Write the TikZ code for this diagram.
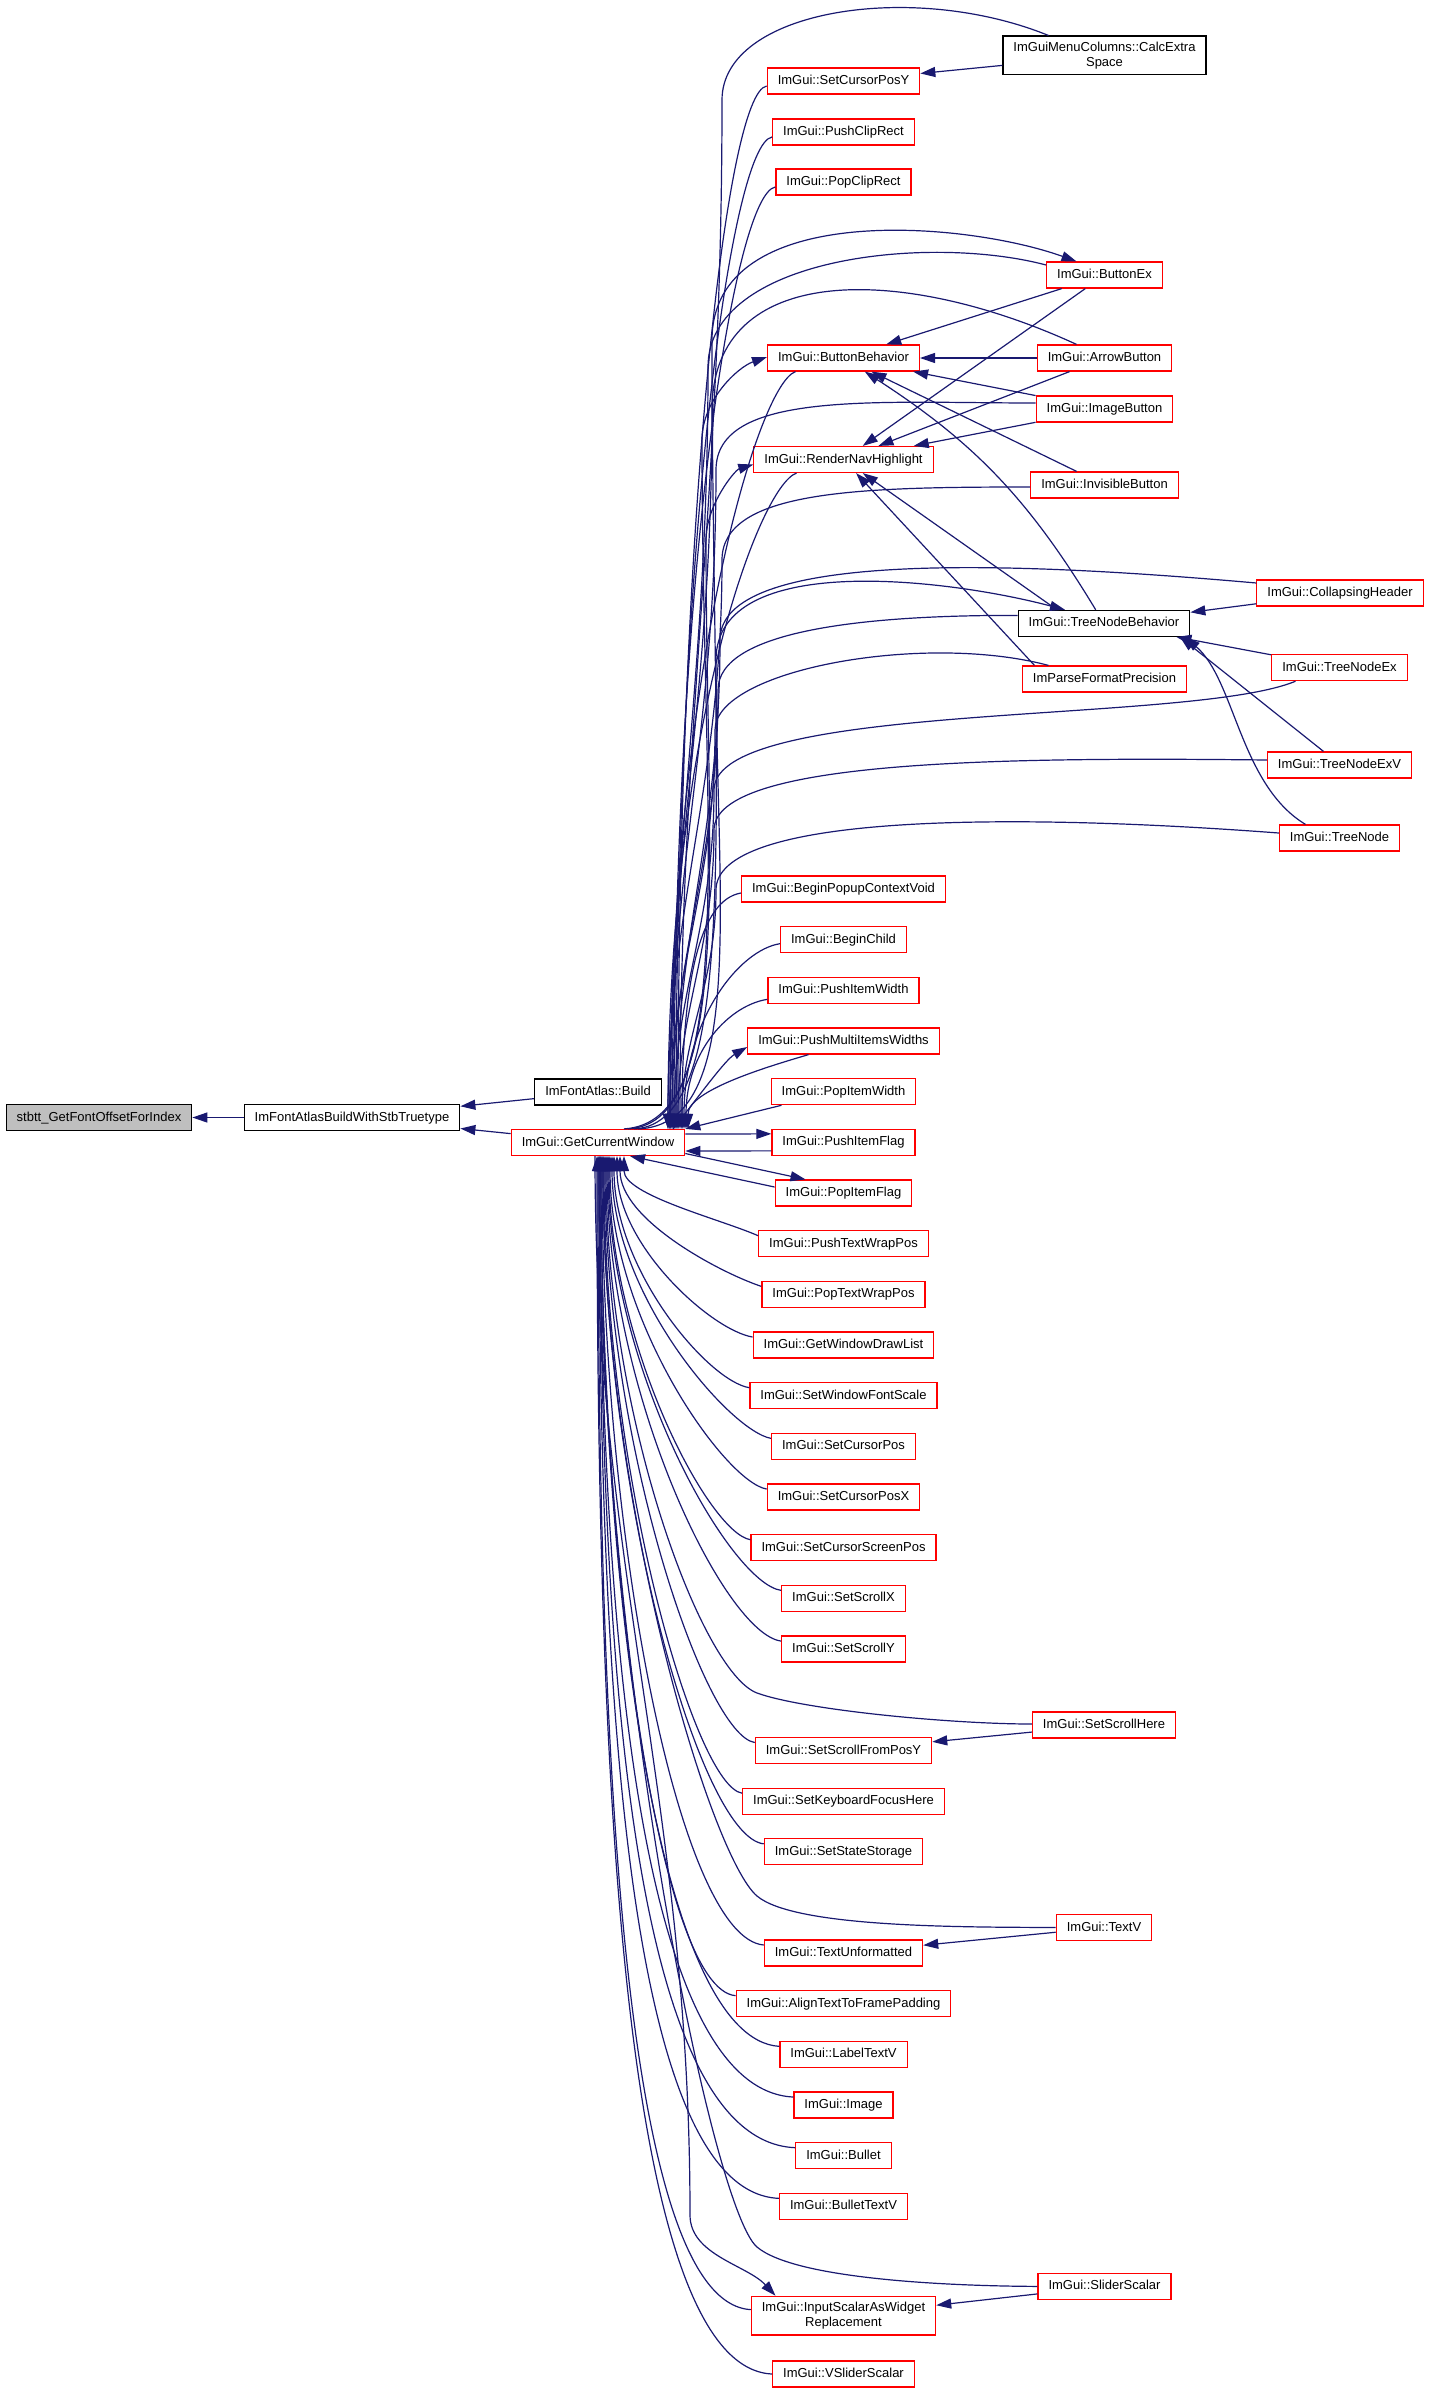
\documentclass[tikz,border=0pt]{standalone}
\usepackage{fontspec}
\setmainfont{Liberation Sans}
\usepackage{tikz}
\usetikzlibrary{positioning}
\usetikzlibrary{arrows.meta}
\usepackage{xcolor}
\definecolor{navy}{HTML}{191970}
\definecolor{boxgray}{HTML}{BFBFBF}

\begin{document}
\begin{tikzpicture}[x=1pt, y=1pt, node distance=50.67pt,
  fn/.style = {draw=red, line width=1.2pt, rectangle, font=\fontsize{13}{15.5}\selectfont, inner xsep=10.5pt, inner ysep=0pt, minimum height=26pt, text height=9.6pt, text depth=2.6pt},
  fnblack/.style = {fn, draw=black},
  fngray/.style = {fnblack, fill=boxgray},
  twoline/.style = {align=center, text height={}, text depth={}, inner ysep=5.5pt},
  call/.style = {draw=navy, line width=1.2pt, -{Triangle[length=15pt,width=10pt]}}]
\useasboundingbox (0,0) rectangle (1429,-2393);

\node[fngray] (stbtt) at (99,-1117.5) {stbtt\_GetFontOffsetForIndex};
\node[fnblack] (fontbuild) at (352,-1117.5) {ImFontAtlasBuildWithStbTruetype};
\node[fnblack] (atlasbuild) at (598,-1092) {ImFontAtlas::Build};
\node[fn] (getwin) at (598,-1142.5) {ImGui::GetCurrentWindow};

\node[fnblack, twoline] (calcextra) at (1104.5,-55.4) {ImGuiMenuColumns::CalcExtra\\Space};
\node[fn] (setcurposy) at (843.5,-81) {ImGui::SetCursorPosY};
\node[fn] (pushclip) at (843.5,-132) {ImGui::PushClipRect};
\node[fn] (popclip) at (843.5,-182) {ImGui::PopClipRect};
\node[fn] (buttonex) at (1104.5,-275) {ImGui::ButtonEx};
\node[fn] (btnbehav) at (843.5,-358) {ImGui::ButtonBehavior};
\node[fn] (arrowbutton) at (1104.5,-358) {ImGui::ArrowButton};
\node[fn] (imagebutton) at (1104.5,-409) {ImGui::ImageButton};
\node[fn] (rendernav) at (843.5,-459.5) {ImGui::RenderNavHighlight};
\node[fn] (invisible) at (1104.5,-485) {ImGui::InvisibleButton};
\node[fn] (collhead) at (1340,-593) {ImGui::CollapsingHeader};
\node[fnblack] (treebehav) at (1104,-623.4) {ImGui::TreeNodeBehavior};
\node[fn] (treenodeex) at (1339.5,-667.6) {ImGui::TreeNodeEx};
\node[fn] (impfp) at (1104.5,-679) {ImParseFormatPrecision};
\node[fn] (treenodeexv) at (1339.5,-765) {ImGui::TreeNodeExV};
\node[fn] (treenode) at (1339.5,-838) {ImGui::TreeNode};

\node[fn] (popupvoid) at (843.5,-889) {ImGui::BeginPopupContextVoid};
\node[fn] (beginchild) [below of=popupvoid] {ImGui::BeginChild};
\node[fn] (pushwidth) [below of=beginchild] {ImGui::PushItemWidth};
\node[fn] (pushmulti) [below of=pushwidth] {ImGui::PushMultiItemsWidths};
\node[fn] (popwidth) [below of=pushmulti] {ImGui::PopItemWidth};
\node[fn] (pushflag) [below of=popwidth] {ImGui::PushItemFlag};
\node[fn] (popflag) [below of=pushflag] {ImGui::PopItemFlag};
\node[fn] (pushwrap) [below of=popflag] {ImGui::PushTextWrapPos};
\node[fn] (popwrap) [below of=pushwrap] {ImGui::PopTextWrapPos};
\node[fn] (drawlist) [below of=popwrap] {ImGui::GetWindowDrawList};
\node[fn] (fontscale) [below of=drawlist] {ImGui::SetWindowFontScale};
\node[fn] (cursorpos) [below of=fontscale] {ImGui::SetCursorPos};
\node[fn] (cursorposx) [below of=cursorpos] {ImGui::SetCursorPosX};
\node[fn] (screenpos) [below of=cursorposx] {ImGui::SetCursorScreenPos};
\node[fn] (scrollx) [below of=screenpos] {ImGui::SetScrollX};
\node[fn] (scrolly) [below of=scrollx] {ImGui::SetScrollY};

\node[fn] (scrollhere) at (1104,-1725) {ImGui::SetScrollHere};
\node[fn] (scrollfrom) at (843.5,-1750.5) {ImGui::SetScrollFromPosY};
\node[fn] (kbfocus) [below of=scrollfrom] {ImGui::SetKeyboardFocusHere};
\node[fn] (statestorage) [below of=kbfocus] {ImGui::SetStateStorage};
\node[fn] (textv) at (1104,-1927.5) {ImGui::TextV};
\node[fn] (textunf) at (843.5,-1953) {ImGui::TextUnformatted};
\node[fn] (aligntext) [below of=textunf] {ImGui::AlignTextToFramePadding};
\node[fn] (labeltextv) [below of=aligntext] {ImGui::LabelTextV};
\node[fn] (image) [below of=labeltextv] {ImGui::Image};
\node[fn] (bullet) [below of=image] {ImGui::Bullet};
\node[fn] (bullettextv) [below of=bullet] {ImGui::BulletTextV};
\node[fn] (sliderscalar) at (1104.5,-2286.4) {ImGui::SliderScalar};
\node[fn, twoline] (inputscalar) at (843.5,-2315.6) {ImGui::InputScalarAsWidget\\Replacement};
\node[fn] (vslider) at (843.5,-2374) {ImGui::VSliderScalar};

% left part
\path (fontbuild) edge [call] (stbtt);
\path (atlasbuild) edge [call] (fontbuild);
\path (getwin) edge [call] (fontbuild);

% calls between the right hand columns
\path (calcextra) edge [call] (setcurposy);
\path (buttonex) edge [call] (btnbehav);
\path (buttonex) edge [call] (rendernav);
\path (arrowbutton) edge [call] (btnbehav);
\path (arrowbutton) edge [call] (rendernav);
\path (imagebutton) edge [call] (btnbehav);
\path (imagebutton) edge [call] (rendernav);
\path (invisible) edge [call] (btnbehav);
\path (treebehav) edge [call, bend right=13] (btnbehav);
\path ([xshift=-47pt]treebehav.north) edge [call] (rendernav);
\path ([xshift=-70pt]impfp.north) edge [call] (rendernav);
\path (collhead) edge [call] (treebehav);
\path (treenodeex) edge [call] (treebehav);
\path ([xshift=-16pt]treenodeexv.north) edge [call] ([xshift=76pt]treebehav.south);
\draw[call] ([xshift=-34pt]treenode.north) .. controls (1240,-785) and (1235,-680) .. ([xshift=81pt]treebehav.south);
\path (scrollhere) edge [call] (scrollfrom);
\path (textv) edge [call] (textunf);
\path (sliderscalar) edge [call] (inputscalar);

% upper callers of GetCurrentWindow
\draw[call] ([yshift=-5pt]setcurposy.west) .. controls (725,-93) and (678,-530) .. ([xshift=80pt]getwin.north);
\draw[call] ([yshift=-5pt]pushclip.west) .. controls (730,-144) and (676,-550) .. ([xshift=78pt]getwin.north);
\draw[call] ([yshift=-5pt]popclip.west) .. controls (734,-194) and (674,-570) .. ([xshift=76pt]getwin.north);
\draw[call] ([xshift=-48pt]btnbehav.south) .. controls (757,-385) and (670,-680) .. ([xshift=72pt]getwin.north);
\draw[call] ([xshift=-47pt]rendernav.south) .. controls (759,-486) and (668,-730) .. ([xshift=70pt]getwin.north);
\draw[call] ([yshift=-4pt]popupvoid.west) .. controls (700,-900) and (682,-980) .. ([xshift=84pt]getwin.north);
\draw[call] ([yshift=-4pt]beginchild.west) .. controls (739,-950) and (684,-1020) .. ([xshift=86pt]getwin.north);
\draw[call] ([yshift=-9pt]pushwidth.west) .. controls (730,-1005) and (686,-1050) .. ([xshift=88pt]getwin.north);
\draw[call] ([xshift=-35pt]pushmulti.south) .. controls (770,-1066) and (688,-1090) .. ([xshift=90pt]getwin.north);
\draw[call] ([xshift=-62pt]popwidth.south) -- (getwin.north east);

\draw[call] ([xshift=-56pt]calcextra.north) .. controls (912,20) and (722,-10) .. (722,-100) .. controls (722,-512) and (680,-718) .. ([xshift=82pt]getwin.north);
\draw[call] ([yshift=10pt]buttonex.west) .. controls (929,-234) and (708,-257) .. (708,-367) .. controls (708,-672) and (672,-825) .. ([xshift=74pt]getwin.north);
\draw[call] ([xshift=-28pt]arrowbutton.north) .. controls (904,-265) and (712,-260) .. (712,-410) .. controls (712,-698) and (670,-842) .. ([xshift=72pt]getwin.north);
\draw[call] ([yshift=6pt]imagebutton.west) .. controls (876,-403) and (716,-390) .. (716,-470) .. controls (716,-734) and (670,-866) .. ([xshift=72pt]getwin.north);
\draw[call] ([yshift=-2pt]invisible.west) .. controls (859,-487) and (722,-490) .. (722,-560) .. controls (722,-788) and (668,-902) .. ([xshift=70pt]getwin.north);
\draw[call] ([yshift=10pt]collhead.west) .. controls (1007,-561) and (720,-550) .. (720,-640) .. controls (720,-836) and (676,-934) .. ([xshift=78pt]getwin.north);
\draw[call] ([yshift=8pt]treebehav.west) .. controls (867,-615) and (718,-630) .. (718,-690) .. controls (718,-866) and (672,-954) .. ([xshift=74pt]getwin.north);
\draw[call] ([xshift=-56pt]impfp.north) .. controls (923,-632) and (715,-670) .. (715,-730) .. controls (715,-890) and (670,-970) .. ([xshift=72pt]getwin.north);
\draw[call] ([xshift=-44pt]treenodeex.south) .. controls (1190,-725) and (714,-700) .. (714,-790) .. controls (714,-926) and (674,-994) .. ([xshift=76pt]getwin.north);
\draw[call] ([yshift=5pt]treenodeexv.west) .. controls (1000,-757) and (714,-760) .. (714,-830) .. controls (714,-950) and (678,-1010) .. ([xshift=80pt]getwin.north);
\draw[call] ([yshift=5pt]treenode.west) .. controls (1000,-812) and (716,-815) .. (716,-890) .. controls (716,-986) and (682,-1034) .. ([xshift=84pt]getwin.north);

% GetCurrentWindow back to its callers
\draw[call] ([xshift=36pt]getwin.north) .. controls (744,-1124) and (712,-800) .. (712,-340) .. controls (712,-200) and (964,-221) .. ([xshift=-28pt]buttonex.north);
\draw[call] ([xshift=40pt]getwin.north) .. controls (748,-1125) and (716,-900) .. (716,-660) .. controls (716,-550) and (949,-579) .. ([xshift=-39pt]treebehav.north);
\draw[call] ([xshift=30pt]getwin.north) .. controls (740,-1123) and (702,-820) .. (702,-440) .. controls (702,-400) and (738,-367) .. ([yshift=1pt]btnbehav.west);
\draw[call] ([xshift=26pt]getwin.north) .. controls (736,-1122) and (706,-860) .. (706,-540) .. controls (706,-505) and (735,-470) .. ([yshift=-5pt]rendernav.west);
\draw[call] ([xshift=75pt]getwin.north) .. controls (700,-1095) and (725,-1060) .. ([yshift=-6pt]pushmulti.west);
\draw[call] ([yshift=8.5pt]getwin.east) -- ([yshift=8.5pt]pushflag.west);
\draw[call] ([yshift=-8.5pt]pushflag.west) -- ([yshift=-8.5pt]getwin.east);
\draw[call] ([yshift=-11pt]getwin.east) -- ([xshift=-38pt]popflag.north);
\draw[call] ([yshift=6pt]popflag.west) -- ([xshift=32pt]getwin.south);
\draw[call] ([xshift=-3pt]getwin.south) .. controls (595,-1570) and (690,-1800) .. (690,-2215) .. controls (690,-2255) and (747,-2265) .. ([xshift=-68pt]inputscalar.north);

% lower callers of GetCurrentWindow
\draw[call] ([yshift=8pt]pushwrap.west) .. controls (720,-1219) and (624,-1195) .. ([xshift=26pt]getwin.south);
\draw[call] ([yshift=8pt]popwrap.west) .. controls (721,-1273) and (620,-1220) .. ([xshift=22pt]getwin.south);
\draw[call] ([yshift=8pt]drawlist.west) .. controls (711,-1330) and (617,-1245) .. ([xshift=19pt]getwin.south);
\draw[call] ([yshift=8pt]fontscale.west) .. controls (708,-1381) and (614,-1270) .. ([xshift=16pt]getwin.south);
\draw[call] ([yshift=8pt]cursorpos.west) .. controls (730,-1431) and (612,-1295) .. ([xshift=14pt]getwin.south);
\draw[call] ([yshift=8pt]cursorposx.west) .. controls (725,-1482) and (610,-1320) .. ([xshift=12pt]getwin.south);
\draw[call] ([yshift=8pt]screenpos.west) .. controls (709,-1533) and (609,-1345) .. ([xshift=11pt]getwin.south);
\draw[call] ([yshift=8pt]scrollx.west) .. controls (730,-1583) and (608,-1370) .. ([xshift=10pt]getwin.south);
\draw[call] ([yshift=8pt]scrolly.west) .. controls (725,-1634) and (607,-1395) .. ([xshift=9pt]getwin.south);
\draw[call] ([yshift=1pt]scrollhere.west) .. controls (951,-1724) and (804,-1710) .. (757,-1693) .. controls (701,-1672) and (606,-1415) .. ([xshift=8pt]getwin.south);
\draw[call] ([yshift=8pt]scrollfrom.west) .. controls (705,-1735) and (605,-1445) .. ([xshift=7pt]getwin.south);
\draw[call] ([yshift=8pt]kbfocus.west) .. controls (695,-1786) and (604,-1475) .. ([xshift=6pt]getwin.south);
\draw[call] ([yshift=8pt]statestorage.west) .. controls (700,-1837) and (603,-1495) .. ([xshift=5pt]getwin.south);
\draw[call] (textv.west) .. controls (965,-1927) and (795,-1928) .. (757,-1896) .. controls (711,-1857) and (603,-1505) .. ([xshift=5pt]getwin.south);
\draw[call] ([yshift=8pt]textunf.west) .. controls (680,-1938) and (602,-1545) .. ([xshift=4pt]getwin.south);
\draw[call] ([yshift=8pt]aligntext.west) .. controls (660,-1989) and (601,-1575) .. ([xshift=3pt]getwin.south);
\draw[call] ([yshift=8pt]labeltextv.west) .. controls (660,-2039) and (601,-1600) .. ([xshift=3pt]getwin.south);
\draw[call] ([yshift=8pt]image.west) .. controls (640,-2090) and (600,-1625) .. ([xshift=2pt]getwin.south);
\draw[call] ([yshift=8pt]bullet.west) .. controls (630,-2141) and (600,-1650) .. ([xshift=2pt]getwin.south);
\draw[call] ([yshift=8pt]bullettextv.west) .. controls (625,-2192) and (599,-1675) .. ([xshift=1pt]getwin.south);
\draw[call] (sliderscalar.west) .. controls (947,-2286) and (795,-2279) .. (757,-2247) .. controls (711,-2208) and (599,-1655) .. ([xshift=1pt]getwin.south);
\draw[call] ([yshift=6pt]inputscalar.west) .. controls (620,-2302) and (598,-1730) .. (getwin.south);
\draw[call] (vslider.west) .. controls (620,-2367) and (597,-1755) .. ([xshift=-1pt]getwin.south);
\end{tikzpicture}
\end{document}
